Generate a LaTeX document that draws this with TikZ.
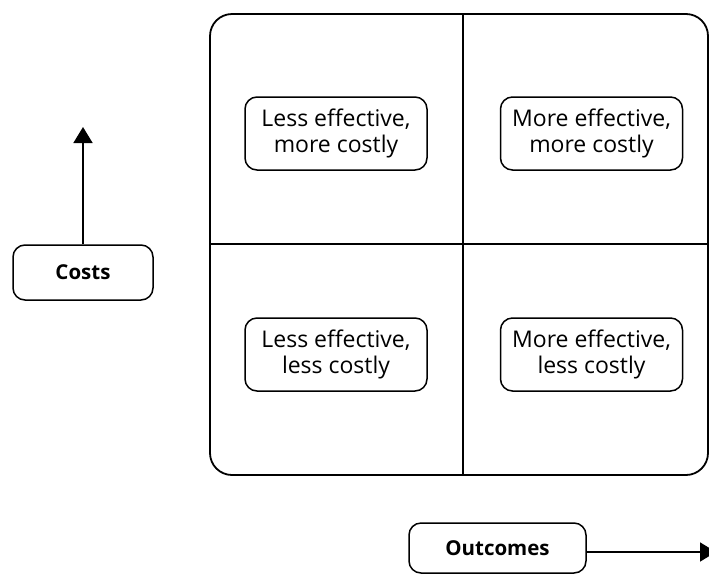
\documentclass[tikz,border=0pt]{standalone}
\usepackage{fontspec}
\setmainfont{Open Sans}
\usetikzlibrary{arrows.meta,positioning}
\begin{document}
\begin{tikzpicture}[x=1pt,y=-1pt,
  cell/.style={draw, line width=1.5pt, rounded corners=12pt, align=center,
    minimum width=182pt, minimum height=73pt, inner sep=0pt,
    font=\fontsize{23}{26}\selectfont},
  axisbox/.style={draw, line width=1.5pt, rounded corners=12pt, align=center,
    inner sep=0pt, font=\fontsize{20.5}{25}\selectfont\bfseries},
  frame/.style={draw, line width=1.8pt, rounded corners=22pt},
  divider/.style={line width=1.7pt},
  axisarrow/.style={line width=1.7pt, -{Triangle[width=19pt,length=16pt]}}]
\useasboundingbox (0,0) rectangle (709,574);
% frame
\draw[frame] (210,14) rectangle (708,475);
\coordinate (vt) at (463,14);
\coordinate (vb) at (463,475);
\coordinate (hl) at (210,244);
\coordinate (hr) at (708,244);
\draw[divider] (vt) -- (vb);
\draw[divider] (hl) -- (hr);
% cells
\node[cell] (lm) at (336,133.5) {Less effective,\\more costly};
\node[cell] (mm) at (591.5,133.5) {More effective,\\more costly};
\node[cell] (ll) at (336,354.5) {Less effective,\\less costly};
\node[cell] (ml) at (591.5,354.5) {More effective,\\less costly};
% axes
\node[axisbox, minimum width=140pt, minimum height=55pt] (costs) at (83,272.5) {Costs};
\coordinate (costtip) at (83,127);
\draw[axisarrow] (costs.north) -- (costtip);
\node[axisbox, minimum width=177pt, minimum height=50pt] (outc) at (497.5,548) {Outcomes};
\coordinate (outtip) at (716,552);
\draw[axisarrow] (outc.east |- outtip) -- (outtip);
\end{tikzpicture}
\end{document}
